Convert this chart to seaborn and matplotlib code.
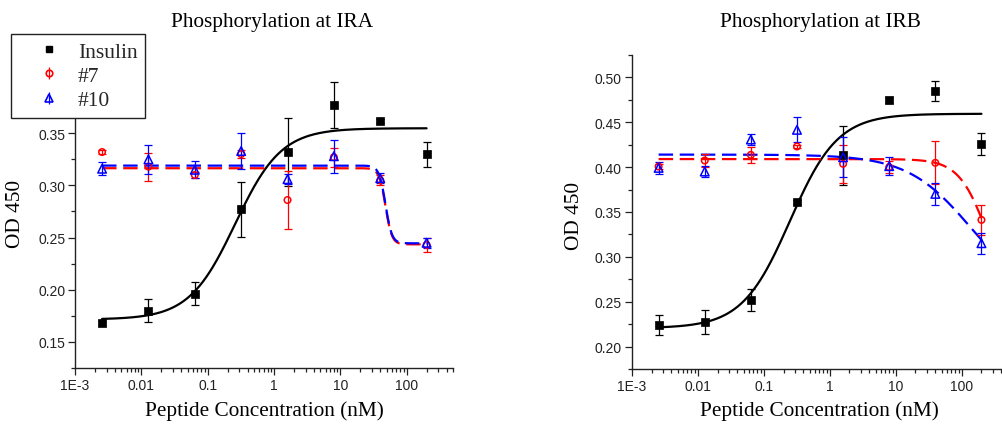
import numpy as np
import pandas as pd
import matplotlib
matplotlib.use("Agg")
import matplotlib.pyplot as plt
import seaborn as sns
from matplotlib.lines import Line2D
from matplotlib.ticker import FixedLocator, FixedFormatter, MultipleLocator, NullFormatter, FormatStrFormatter

# ---------------- data ----------------
conc = [0.00256, 0.0128, 0.064, 0.32, 1.6, 8, 40, 200]
series_names = ["Insulin", "#7", "#10"]
x_tick_values = [1e-3, 0.01, 0.1, 1, 10, 100]
x_tick_labels = ["1E-3", "0.01", "0.1", "1", "10", "100"]

ira_insulin = [0.168, 0.180, 0.196, 0.277, 0.332, 0.377, 0.362, 0.330]
ira_insulin_err = [0.002, 0.011, 0.011, 0.026, 0.033, 0.022, 0.002, 0.012]
ira_p7 = [0.332, 0.318, 0.310, 0.330, 0.286, 0.327, 0.305, 0.243]
ira_p7_err = [0.002, 0.0135, 0.003, 0.004, 0.028, 0.009, 0.005, 0.007]
ira_p10 = [0.316, 0.325, 0.315, 0.333, 0.306, 0.328, 0.307, 0.245]
ira_p10_err = [0.006, 0.014, 0.008, 0.017, 0.005, 0.016, 0.005, 0.005]

irb_insulin = [0.224, 0.227, 0.252, 0.361, 0.413, 0.475, 0.485, 0.426]
irb_insulin_err = [0.011, 0.0135, 0.0125, 0.002, 0.0325, 0.003, 0.011, 0.0123]
irb_p7 = [0.4007, 0.4074, 0.4137, 0.423, 0.4037, 0.400, 0.4048, 0.3412]
irb_p7_err = [0.003, 0.007, 0.009, 0.002, 0.021, 0.0065, 0.0238, 0.0167]
irb_p10 = [0.3992, 0.3951, 0.4308, 0.4416, 0.411, 0.4011, 0.3702, 0.3152]
irb_p10_err = [0.0069, 0.0065, 0.006, 0.014, 0.0223, 0.010, 0.0123, 0.0117]

# fitted dose-response (logistic) parameters: value at low conc, value at high conc, x0, hill
ira_insulin_fit = (0.1715, 0.3548, 0.26, 1.25)
ira_p7_fit = (0.3165, 0.2435, 48.0, 9.0)
ira_p10_fit = (0.3190, 0.2445, 48.0, 9.0)
irb_insulin_fit = (0.2205, 0.4595, 0.25, 1.2)
irb_p7_fit = (0.409, 0.240, 250.0, 2.0)
irb_p10_fit = (0.414, 0.250, 140.0, 0.9)


def logistic(x, start, end, x0, hill):
    return end + (start - end) / (1.0 + (x / x0) ** hill)


# ---------------- style ----------------
sns.set_theme(style="ticks")
plt.rcParams["font.family"] = ["Liberation Sans", "DejaVu Sans"]
SERIF = ["Liberation Serif", "DejaVu Serif"]
plt.rcParams["axes.linewidth"] = 1.0

fig = plt.figure(figsize=(10.03, 4.27), dpi=100)
W, H = 1003.0, 427.0
ax1 = fig.add_axes([75 / W, 58 / H, 378 / W, 313 / H])
ax2 = fig.add_axes([631.7 / W, 57 / H, 376 / W, 314 / H])

styles = {
    "Insulin": dict(color="black", marker="s", filled=True, s=27, ls="-"),
    "#7": dict(color="#ff0000", marker="o", filled=False, s=22, ls=(0, (6.5, 3))),
    "#10": dict(color="#0000ff", marker="^", filled=False, s=38, ls=(0, (6.5, 3))),
}


def draw_panel(ax, data, ylim, ymajor):
    xs = np.logspace(np.log10(conc[0]), np.log10(conc[-1]), 400)
    for name, (y, err, fit) in data.items():
        st = styles[name]
        df = pd.DataFrame({"x": xs, "y": logistic(xs, *fit)})
        sns.lineplot(data=df, x="x", y="y", ax=ax, color=st["color"], lw=1.6,
                     linestyle=st["ls"], estimator=None, errorbar=None, zorder=3)
    for name, (y, err, fit) in data.items():
        st = styles[name]
        ax.errorbar(conc, y, yerr=err, fmt="none", ecolor=st["color"], elinewidth=0.9,
                    capsize=3, capthick=0.9, zorder=4)
        pts = pd.DataFrame({"x": conc, "y": y})
        if st["filled"]:
            sns.scatterplot(data=pts, x="x", y="y", ax=ax, marker=st["marker"], s=st["s"],
                            color=st["color"], edgecolor=st["color"], linewidth=0.5, zorder=5)
        else:
            sns.scatterplot(data=pts, x="x", y="y", ax=ax, marker=st["marker"], s=st["s"],
                            color=st["color"], facecolor="none", edgecolor=st["color"],
                            linewidth=1.1, zorder=5)
    ax.set_xscale("log")
    ax.set_xlim(1e-3, 500)
    ax.set_ylim(*ylim)
    ax.xaxis.set_major_locator(FixedLocator(x_tick_values))
    ax.xaxis.set_major_formatter(FixedFormatter(x_tick_labels))
    minors = [m * 10.0 ** e for e in range(-3, 3) for m in range(2, 10) if m * 10.0 ** e <= 500]
    ax.xaxis.set_minor_locator(FixedLocator(minors))
    ax.xaxis.set_minor_formatter(NullFormatter())
    ax.yaxis.set_major_locator(MultipleLocator(ymajor))
    ax.yaxis.set_minor_locator(MultipleLocator(ymajor / 2))
    ax.yaxis.set_major_formatter(FormatStrFormatter("%.2f"))
    for sp in ("top", "right"):
        ax.spines[sp].set_visible(False)
    for sp in ("left", "bottom"):
        ax.spines[sp].set_color("#222222")
    ax.tick_params(which="major", direction="out", length=5, width=0.9, colors="#222222",
                   labelsize=10, pad=2)
    ax.tick_params(which="minor", direction="out", length=3, width=0.9, colors="#222222")
    ax.set_xlabel("")
    ax.set_ylabel("")
    ax.set_facecolor("white")


draw_panel(ax1, {
    "Insulin": (ira_insulin, ira_insulin_err, ira_insulin_fit),
    "#7": (ira_p7, ira_p7_err, ira_p7_fit),
    "#10": (ira_p10, ira_p10_err, ira_p10_fit),
}, (0.125, 0.425), 0.05)

draw_panel(ax2, {
    "Insulin": (irb_insulin, irb_insulin_err, irb_insulin_fit),
    "#7": (irb_p7, irb_p7_err, irb_p7_fit),
    "#10": (irb_p10, irb_p10_err, irb_p10_fit),
}, (0.175, 0.525), 0.05)

# titles and labels (figure pixel positions)
def fx(px):
    return px / W


def fy(py):
    return 1 - py / H


TXT = 15.3
fig.text(fx(272), fy(27), "Phosphorylation at IRA", ha="center", va="baseline",
         fontsize=TXT, family=SERIF, color="black")
fig.text(fx(820), fy(27), "Phosphorylation at IRB", ha="center", va="baseline",
         fontsize=TXT, family=SERIF, color="black")
fig.text(fx(264), fy(416), "Peptide Concentration (nM)", ha="center", va="baseline",
         fontsize=TXT, family=SERIF, color="black")
fig.text(fx(819), fy(416), "Peptide Concentration (nM)", ha="center", va="baseline",
         fontsize=TXT, family=SERIF, color="black")
fig.text(fx(16), fy(214), "OD 450", ha="center", va="center", rotation=90,
         fontsize=TXT, family=SERIF, color="black")
fig.text(fx(574.5), fy(216), "OD 450", ha="center", va="center", rotation=90,
         fontsize=TXT, family=SERIF, color="black")

# legend
handles = []
for name in series_names:
    st = styles[name]
    bar = Line2D([], [], marker="|", color=st["color"], ls="none", markersize=8, mew=0.9)
    if st["filled"]:
        mk = Line2D([], [], marker="s", color=st["color"], ls="none", markersize=5)
    else:
        mk = Line2D([], [], marker=st["marker"], mfc="none", mec=st["color"], ls="none",
                    markersize=np.sqrt(st["s"]), mew=1.2)
    handles.append((bar, mk) if not st["filled"] else mk)

leg = fig.legend(handles, series_names, loc="upper left", bbox_to_anchor=(fx(11), fy(35)),
                 borderaxespad=0, frameon=True, fancybox=False, shadow=False,
                 prop={"family": SERIF, "size": 15.5}, handlelength=2.8, handletextpad=-0.05,
                 borderpad=0.35, labelspacing=0.2, numpoints=1)
leg.get_frame().set_edgecolor("#222222")
leg.get_frame().set_linewidth(1.0)
leg.get_frame().set_facecolor("white")
leg.get_frame().set_alpha(1)
leg.set_zorder(20)

fig.savefig("out.png", dpi=100, facecolor="white")
